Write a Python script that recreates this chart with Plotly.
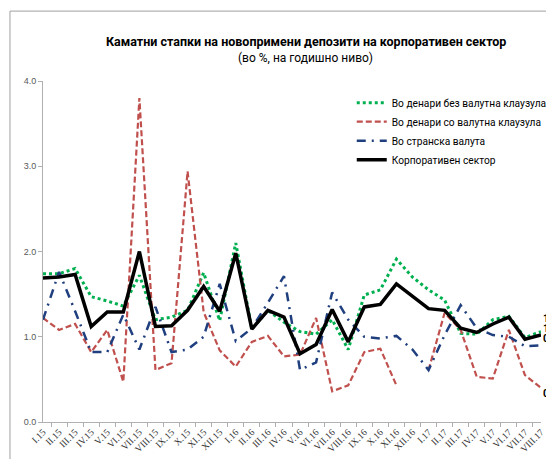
import plotly.graph_objects as go

categories = ["I.15","II.15","III.15","IV.15","V.15","VI.15","VII.15","VIII.15","IX.15","X.15","XI.15","XII.15",
              "I.16","II.16","III.16","IV.16","V.16","VI.16","VII.16","VIII.16","IX.16","X.16","XI.16","XII.16",
              "I.17","II.17","III.17","IV.17","V.17","VI.17","VII.17","VIII.17"]

denari_bez = [1.74,1.74,1.80,1.47,1.42,1.36,1.72,1.20,1.23,1.31,1.75,1.19,
              2.10,1.09,1.31,1.17,1.06,1.03,1.20,0.85,1.49,1.55,1.91,1.70,
              1.55,1.43,1.04,1.03,1.20,1.24,0.99,1.06]
denari_so = [1.22,1.08,1.15,0.82,1.08,0.47,3.80,0.61,0.69,2.94,1.29,0.84,
             0.65,0.94,1.01,0.77,0.79,1.22,0.36,0.43,0.82,0.86,0.43,None,
             0.61,1.28,1.08,0.53,0.51,1.08,0.55,0.40]
stranska = [1.20,1.76,1.30,0.82,0.82,1.26,0.85,1.35,0.82,0.85,1.00,1.62,
            0.95,1.10,1.40,1.71,0.61,0.70,1.52,1.20,1.00,0.98,1.01,0.85,
            0.61,1.02,1.37,1.10,1.02,1.00,0.89,0.90]
korporativen = [1.69,1.70,1.73,1.12,1.29,1.29,2.00,1.12,1.13,1.31,1.59,1.30,
                1.98,1.09,1.31,1.23,0.80,0.91,1.32,0.94,1.35,1.38,1.62,1.47,
                1.33,1.31,1.10,1.05,1.15,1.23,0.97,1.02]

end_labels = ["1.1", "1.0", "0.9", "0.4"]
end_label_y = [1.22, 1.10, 0.985, 0.34]

names = ["Во денари без валутна клаузула", "Во денари со валутна клаузула",
         "Во странска валута", "Корпоративен сектор"]

fig = go.Figure()
fig.add_trace(go.Scatter(x=categories, y=denari_bez, name=names[0], mode="lines",
                         line=dict(color="#00B050", width=3, dash="dot")))
fig.add_trace(go.Scatter(x=categories, y=denari_so, name=names[1], mode="lines",
                         line=dict(color="#C0504D", width=2.2, dash="6px,3px"), connectgaps=False))
fig.add_trace(go.Scatter(x=categories, y=stranska, name=names[2], mode="lines",
                         line=dict(color="#1F3F7F", width=2.5, dash="9px,6px,2px,6px")))
fig.add_trace(go.Scatter(x=categories, y=korporativen, name=names[3], mode="lines",
                         line=dict(color="#000000", width=3.5)))

annotations = [
    dict(text="<b>Каматни стапки на новопримени депозити на корпоративен сектор</b>",
         xref="paper", yref="paper", x=0.528, y=1.115, xanchor="center", yanchor="middle",
         showarrow=False, font=dict(family="Roboto, sans-serif", size=12.5, color="#000000")),
    dict(text="(во %, на годишно ниво)",
         xref="paper", yref="paper", x=0.528, y=1.067, xanchor="center", yanchor="middle",
         showarrow=False, font=dict(family="Roboto, sans-serif", size=12, color="#000000")),
]
for t, yv in zip(end_labels, end_label_y):
    annotations.append(dict(text="<b>" + t + "</b>", xref="paper", yref="y", x=1, y=yv,
                            xanchor="left", yanchor="middle", xshift=0, showarrow=False,
                            font=dict(family="Roboto, sans-serif", size=10.5, color="#000000")))

# The page body has an 8px margin, so the figure is sized/offset to compensate.
fig.update_layout(
    width=546, height=451,
    margin=dict(l=35, r=13, t=73, b=37, autoexpand=False),
    paper_bgcolor="white", plot_bgcolor="white",
    showlegend=True,
    legend=dict(x=0.62, y=0.979, xanchor="left", yanchor="top",
                bgcolor="rgba(0,0,0,0)", itemwidth=30, tracegroupgap=0,
                font=dict(family="Roboto, sans-serif", size=10.2, color="#000000")),
    annotations=annotations,
    shapes=[dict(type="rect", xref="paper", yref="paper", x0=-0.0663, x1=1.3, y0=-0.4, y1=1.205,
                 line=dict(color="#A0A0A0", width=1), fillcolor="rgba(0,0,0,0)", layer="below")],
)
fig.update_xaxes(type="category", showline=True, linecolor="#B0B0B0", linewidth=1,
                 ticks="outside", tickson="boundaries", ticklen=4, tickcolor="#B0B0B0",
                 tickangle=-45, showgrid=False, zeroline=False, automargin=False,
                 tickfont=dict(family="Liberation Serif, serif", size=9.5, color="#333333"))
fig.update_yaxes(range=[0, 4], tickvals=[0, 1, 2, 3, 4], tickformat=".1f",
                 showline=True, linecolor="#B0B0B0", linewidth=1,
                 ticks="outside", ticklen=4, tickcolor="#B0B0B0",
                 showgrid=False, zeroline=False, automargin=False,
                 tickfont=dict(family="Liberation Sans, Arial, sans-serif", size=9, color="#595959"))

fig.write_html("out.html")
